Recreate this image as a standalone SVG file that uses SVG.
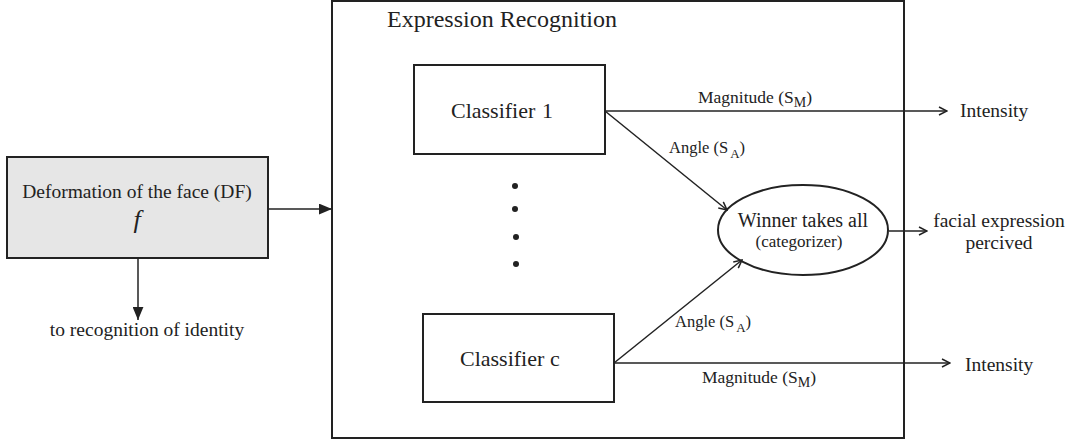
<svg xmlns="http://www.w3.org/2000/svg" width="1070" height="444" viewBox="0 0 1070 444">
<style>
.box{fill:#fff;stroke:#222;stroke-width:2}
.ln{stroke:#222;stroke-width:1.5;fill:none}
text{font-family:"Liberation Serif","Times New Roman",serif;fill:#222}
.big{font-size:24px}
.mid{font-size:19.5px}
.cls{font-size:22px}
.sm{font-size:16.5px}
</style>
<defs>
<marker id="open" viewBox="0 0 10 10" refX="9" refY="5" markerWidth="10" markerHeight="10" markerUnits="userSpaceOnUse" orient="auto">
<path d="M1,1 L9,5 L1,9" fill="none" stroke="#222" stroke-width="1.5"/>
</marker>
<marker id="solid" viewBox="0 0 12 10" refX="12" refY="5" markerWidth="13" markerHeight="11" markerUnits="userSpaceOnUse" orient="auto">
<path d="M0,0 L12,5 L0,10 Z" fill="#222"/>
</marker>
</defs>
<g id="expression-recognition">
<rect class="box" x="332" y="1" width="572" height="437"/>
<text class="big" x="387" y="27">Expression Recognition</text>
</g>
<g id="df">
<rect x="7" y="157" width="261" height="101" fill="#e6e6e6" stroke="#222" stroke-width="2"/>
<text class="mid" x="137" y="198" text-anchor="middle">Deformation of the face (DF)</text>
<text x="137" y="228" text-anchor="middle" font-size="26" font-style="italic">f</text>
</g>
<g id="identity">
<text class="mid" x="147" y="336" text-anchor="middle">to recognition of identity</text>
</g>
<g id="classifier1">
<rect class="box" x="414" y="65" width="191" height="89"/>
<text class="cls" x="451" y="118">Classifier<tspan x="542">1</tspan></text>
</g>
<g id="dots" fill="#222">
<circle cx="515" cy="186" r="3"/>
<circle cx="515" cy="209" r="3"/>
<circle cx="516" cy="237" r="3"/>
<circle cx="516" cy="264" r="3"/>
</g>
<g id="classifierc">
<rect class="box" x="423" y="314" width="191" height="88"/>
<text class="cls" x="460" y="366">Classifier<tspan x="550">c</tspan></text>
</g>
<g id="winner">
<ellipse cx="803" cy="230" rx="85" ry="45" fill="#fff" stroke="#222" stroke-width="2"/>
<text x="803" y="227" text-anchor="middle" font-size="20">Winner takes all</text>
<text x="799" y="247" text-anchor="middle" font-size="17">(categorizer)</text>
</g>
<g id="intensity1"><text class="mid" x="960" y="117">Intensity</text></g>
<g id="intensity2"><text class="mid" x="965" y="371">Intensity</text></g>
<g id="perceived">
<text class="mid" x="999" y="227" text-anchor="middle">facial expression</text>
<text class="mid" x="999" y="249" text-anchor="middle">percived</text>
</g>
<g id="connectors">
<line class="ln" x1="268" y1="209" x2="332" y2="209" marker-end="url(#solid)"/>
<line class="ln" x1="138" y1="258" x2="138" y2="320" marker-end="url(#solid)"/>
<line class="ln" x1="605" y1="111" x2="947" y2="111" marker-end="url(#open)"/>
<line class="ln" x1="605" y1="111" x2="727" y2="210" marker-end="url(#open)"/>
<line class="ln" x1="614" y1="363" x2="742" y2="260" marker-end="url(#open)"/>
<line class="ln" x1="614" y1="363" x2="950" y2="363" marker-end="url(#open)"/>
<line class="ln" x1="889" y1="231" x2="927" y2="231" marker-end="url(#open)"/>
<text x="698" y="103" font-size="17.5">Magnitude (S<tspan font-size="14" dy="4">M</tspan><tspan dy="-4">)</tspan></text>
<text class="sm" x="669" y="153">Angle (S<tspan font-size="13" dx="2" dy="5">A</tspan><tspan dy="-5">)</tspan></text>
<text class="sm" x="675" y="327">Angle (S<tspan font-size="13" dx="2" dy="5">A</tspan><tspan dy="-5">)</tspan></text>
<text x="702" y="383" font-size="17.5">Magnitude (S<tspan font-size="14" dy="4">M</tspan><tspan dy="-4">)</tspan></text>
</g>
</svg>
